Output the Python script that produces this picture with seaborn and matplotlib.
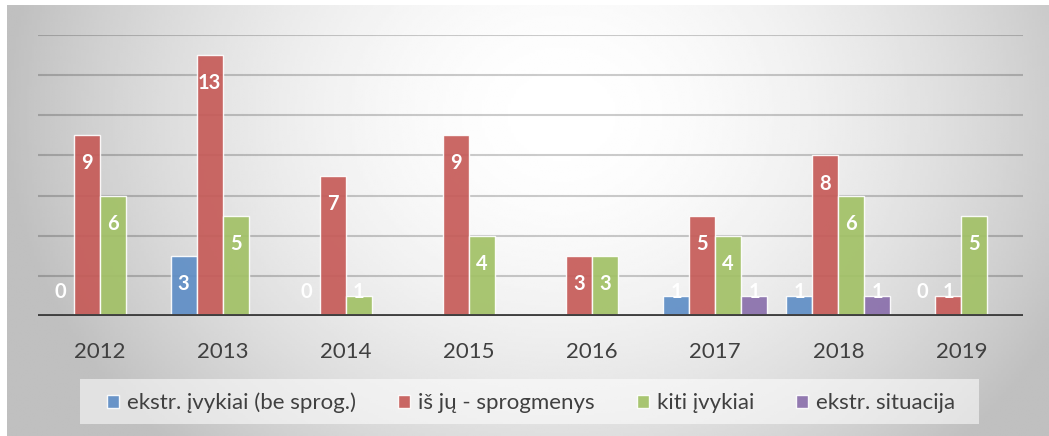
import numpy as np
import pandas as pd
import matplotlib
matplotlib.use("Agg")
import matplotlib.pyplot as plt
from matplotlib.patches import Rectangle
import seaborn as sns

years = ["2012", "2013", "2014", "2015", "2016", "2017", "2018", "2019"]
series = ["ekstr. įvykiai (be sprog.)", "iš jų - sprogmenys",
          "kiti įvykiai", "ekstr. situacija"]
ekstr = [0, 3, 0, np.nan, np.nan, 1, 1, 0]
sprog = [9, 13, 7, 9, 3, 5, 8, 1]
kiti = [6, 5, 1, 4, 3, 4, 6, 5]
situacija = [np.nan, np.nan, np.nan, np.nan, np.nan, 1, 1, np.nan]
colors = ["#5f8ec6", "#c65b58", "#a2c166", "#8a6fab"]


def make_df():
    rows = []
    for name, vals in zip(series, [ekstr, sprog, kiti, situacija]):
        for y, v in zip(years, vals):
            rows.append(dict(year=y, series=name, value=v))
    return pd.DataFrame(rows).dropna()


def draw_background(fig):
    # radial grey gradient behind the whole chart
    bg = fig.add_axes([7 / 1049, 0, 1042 / 1049, 431 / 436], zorder=-10)
    xx, yy = np.meshgrid(np.linspace(0, 1042, 400), np.linspace(0, 431, 200))
    d = np.sqrt(((xx - 555) / 560) ** 2 + ((yy - 110) / 470) ** 2)
    g = 1 - 0.25 * np.clip(d, 0, 1) ** 1.8
    bg.imshow(g, cmap="gray", vmin=0, vmax=1, aspect="auto",
              extent=(0, 1, 0, 1), interpolation="bilinear")
    bg.axis("off")
    fig.patches.append(Rectangle((80 / 1049, 12 / 436), 899 / 1049, 45 / 436,
                                 transform=fig.transFigure, facecolor="white",
                                 alpha=0.55, edgecolor="none", zorder=-5))


def main():
    sns.set_style("white")
    plt.rcParams["font.family"] = ["Lato", "DejaVu Sans"]

    fig = plt.figure(figsize=(10.49, 4.36), dpi=100)
    fig.patch.set_facecolor("white")
    draw_background(fig)

    ax = fig.add_axes([38 / 1049, 120 / 436, 985 / 1049, 281 / 436])
    ax.patch.set_alpha(0)

    df = make_df()
    sns.barplot(df, x="year", y="value", hue="series", hue_order=series,
                order=years, palette=colors, saturation=1, width=0.845,
                errorbar=None, edgecolor=(1, 1, 1, 0.5), linewidth=1,
                alpha=0.92, ax=ax, zorder=3)

    for cont in ax.containers:
        for bar in cont:
            h = bar.get_height()
            if np.isnan(h):
                continue
            x = bar.get_x() + bar.get_width() / 2
            ax.text(x, max(h - 1.4, 1.2), f"{int(h)}", ha="center",
                    va="center", color="white", fontsize=14.5,
                    fontweight="bold", zorder=5)

    ax.set_ylim(0, 14)
    ax.set_xlim(-0.5, 7.5)
    ax.set_yticks(range(2, 15, 2))
    ax.yaxis.grid(True, color="black", alpha=0.2, linewidth=1.5, zorder=0)
    ax.set_axisbelow(True)
    ax.tick_params(axis="y", left=False, labelleft=False)
    ax.tick_params(axis="x", bottom=False, labelsize=16, labelcolor="#404040",
                   pad=15)
    ax.axhline(0, color="#404040", linewidth=2.8, zorder=4)
    for s in ax.spines.values():
        s.set_visible(False)
    ax.set_xlabel("")
    ax.set_ylabel("")

    ax.legend(loc="center", bbox_to_anchor=(531 / 1049, 33 / 436),
              bbox_transform=fig.transFigure, ncol=4, frameon=False,
              fontsize=16, labelcolor="#404040", handlelength=0.55,
              handleheight=0.55, handletextpad=0.35, columnspacing=1.9)

    fig.savefig("out.png", dpi=100)


if __name__ == "__main__":
    main()
